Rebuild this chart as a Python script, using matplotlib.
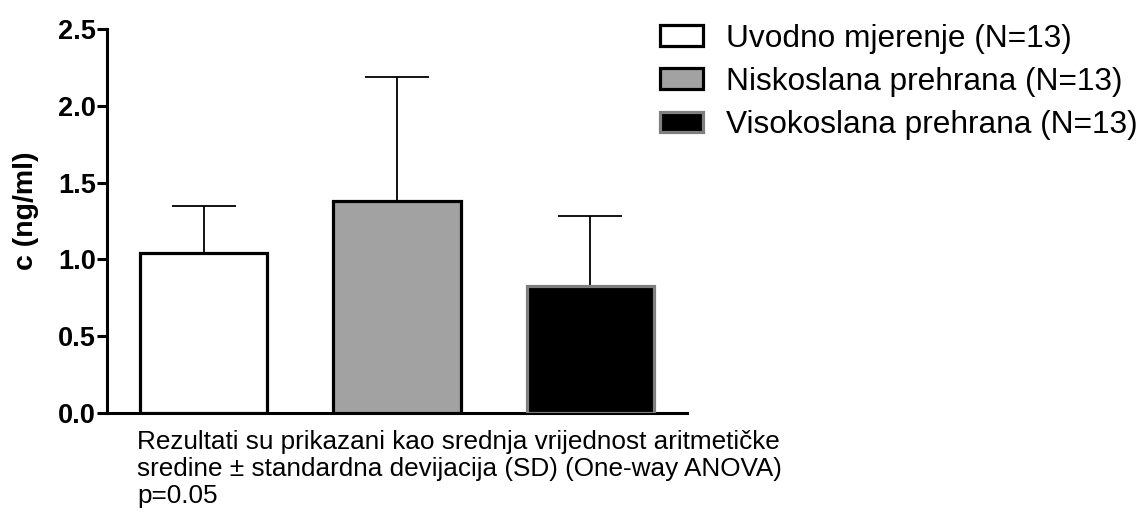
import numpy as np
import matplotlib.pyplot as plt
from matplotlib.patches import Patch

plt.rcParams["font.family"] = ["Liberation Sans", "DejaVu Sans"]

# ---- Data ----
groups = ["Uvodno mjerenje (N=13)", "Niskoslana prehrana (N=13)", "Visokoslana prehrana (N=13)"]
means = [1.04, 1.38, 0.83]
sds = [0.31, 0.81, 0.45]
fills = ["white", "#a2a2a2", "black"]
edges = ["black", "black", "#7f7f7f"]
yticks = [0.0, 0.5, 1.0, 1.5, 2.0, 2.5]
caption = ("Rezultati su prikazani kao srednja vrijednost aritmetičke\n"
           "sredine ± standardna devijacija (SD) (One-way ANOVA)\n"
           "p=0.05")

fig = plt.figure(figsize=(11.42, 5.15), dpi=100)
ax = fig.add_axes([107 / 1142, 102 / 515, 580 / 1142, 384 / 515])

x = np.arange(len(means))
ax.bar(x, means, width=0.66, color=fills, edgecolor=edges, linewidth=2.3, zorder=3)
ax.errorbar(x, means, yerr=[np.zeros(len(sds)), sds], fmt="none",
            ecolor="black", elinewidth=1.3, capsize=23, capthick=1.3, zorder=2)

ax.set_xlim(-0.5, 2.5)
ax.set_ylim(0, 2.5)
ax.set_yticks(yticks)
ax.set_yticklabels([f"{v:.1f}" for v in yticks], fontsize=19.5, fontweight="bold")
ax.set_xticks([])
ax.set_ylabel("c (ng/ml)", fontsize=20.5, fontweight="bold")
ax.yaxis.set_label_coords(-0.118, 0.527)
for side in ["top", "right"]:
    ax.spines[side].set_visible(False)
for side in ["left", "bottom"]:
    ax.spines[side].set_linewidth(2.2)
ax.tick_params(axis="y", length=7, width=2.2, pad=1)

handles = [Patch(facecolor=f, edgecolor=e, linewidth=2.3) for f, e in zip(fills, edges)]
fig.legend(handles, groups, loc="upper left", bbox_to_anchor=(660 / 1142, 1 - 23.5 / 515),
           frameon=False, fontsize=22.8, handlelength=1.35, handleheight=0.62,
           handletextpad=0.72, labelspacing=0.42, borderaxespad=0, borderpad=0)

fig.text(137 / 1142, 1 - 430 / 515, caption, fontsize=18.8, va="top", linespacing=1.16)

fig.savefig("out.png", dpi=100)
